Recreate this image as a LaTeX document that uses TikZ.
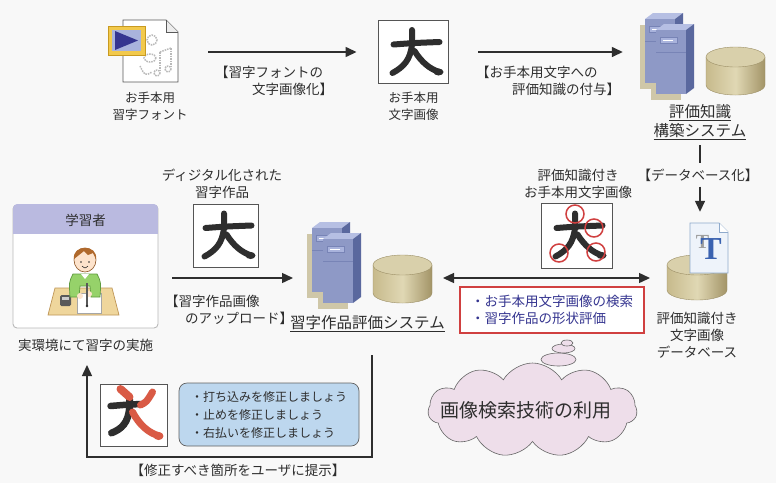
\documentclass[tikz,border=0pt]{standalone}
\usepackage{fontspec}
\setmainfont{Noto Sans CJK JP}
\newfontfamily\tfont{Liberation Serif}
\usetikzlibrary{arrows.meta,shapes.symbols,shapes.geometric}

\definecolor{bg}{HTML}{F8F8F8}
\definecolor{ink}{HTML}{2E2E2E}
\definecolor{boxline}{HTML}{555555}
\definecolor{srvfront}{HTML}{8E99C6}
\definecolor{srvside}{HTML}{5A689E}
\definecolor{srvtop}{HTML}{B6BFE3}
\definecolor{srvline}{HTML}{7884B6}
\definecolor{srvslot}{HTML}{A9B3DC}
\definecolor{srvshadow}{HTML}{CFC7A8}
\definecolor{dbmid}{HTML}{C7BA8C}
\definecolor{dblight}{HTML}{E0D8B4}
\definecolor{dbdark}{HTML}{A39467}
\definecolor{dbtop}{HTML}{D9D0AB}
\definecolor{dbedge}{HTML}{9C8F66}
\definecolor{lav}{HTML}{BABAE0}
\definecolor{tipblue}{HTML}{BDD7EE}
\definecolor{cloudpink}{HTML}{EEDEEA}
\definecolor{boxred}{HTML}{D04040}
\definecolor{navy}{HTML}{353590}
\definecolor{brushred}{HTML}{D95A45}
\definecolor{docedge}{HTML}{8FAACC}
\definecolor{docfill}{HTML}{EEF3FA}
\definecolor{tblue}{HTML}{3A62B0}
\definecolor{desk}{HTML}{EFD69C}
\definecolor{deskedge}{HTML}{BE9556}
\definecolor{shirt}{HTML}{96D26A}
\definecolor{shirtedge}{HTML}{5E9A3E}
\definecolor{skin}{HTML}{FDE3CC}
\definecolor{hair}{HTML}{B0692C}
\definecolor{fontyellow}{HTML}{F2C94C}
\definecolor{fontgold}{HTML}{C89A20}

% one server cabinet, offset by #1 to the right and down
\newcommand\drawsrv[1]{%
  \begin{scope}[shift={(#1,#1)}]
    \fill[srvtop] (0,6) -- (8,0) -- (38,0) -- (30,6) -- cycle;
    \fill[srvside] (30,6) -- (38,0) -- (38,64) -- (30,70) -- cycle;
    \fill[srvfront] (0,6) rectangle (30,70);
    \draw[srvline, line width=0.6] (0,28) -- (30,28);
    \fill[srvslot] (4,13) rectangle (21,19);
    \draw[srvline, line width=0.4] (4,13) rectangle (21,19);
    \draw[white, line width=0.9] (7,16) -- (17,16);
  \end{scope}}

\tikzset{
  arr/.style={draw=ink, line width=1.4, -{Triangle[length=11pt,width=10pt]}},
  dblarr/.style={draw=ink, line width=1.4, {Triangle[length=11pt,width=10pt]}-{Triangle[length=11pt,width=10pt]}},
  plain/.style={draw=ink, line width=1.4},
  lbl/.style={font=\fontsize{13.5}{17}\selectfont, text=ink, align=center, inner sep=0},
  lblsmall/.style={font=\fontsize{12.5}{17}\selectfont, text=ink, align=center, inner sep=0},
  syslbl/.style={font=\fontsize{15.5}{19}\selectfont, text=ink, align=center, inner sep=0},
  charbox/.style={draw=boxline, line width=0.9, fill=white, inner sep=0},
  ghost/.style={inner sep=0},
  brush/.style={draw=ink, line width=6, line cap=round},
  redbrush/.style={draw=brushred, line width=7, line cap=round},
  ring/.style={draw=boxred, line width=1.5},
  bubble/.style={ellipse, draw=gray!80!black, line width=0.6, fill=cloudpink, inner sep=0},
  pics/daichar/.style={code={
    \draw[brush] (-20,-7.5) .. controls (0,-9) .. (26,-10);
    \draw[brush] (-1.5,-22) -- (-1.5,-8) .. controls (-3,8) and (-10,15) .. (-21,21);
    \draw[brush] (1,-1) .. controls (8,10) and (16,17) .. (26,20);
    \fill[ink] (25,20) ellipse [x radius=5, y radius=3.5];
  }},
  pics/servers/.style={code={
    \fill[srvshadow] (-5,12) rectangle (25,76);
    \fill[srvshadow] (6,23) rectangle (36,87);
    \drawsrv{0}
    \drawsrv{11}
  }},
  pics/cyl/.style 2 args={code={
    \path[left color=dbmid, right color=dbdark, middle color=dblight, draw=dbedge, line width=0.4]
      (0,10) -- (0,10+#2) arc[start angle=180, end angle=0, x radius=#1/2, y radius=10]
      -- (#1,10) -- cycle;
    \path[fill=dbtop, draw=dbedge, line width=0.4] (#1/2,10) ellipse [x radius=#1/2, y radius=10];
  }},
}

\begin{document}
\begin{tikzpicture}[x=1pt, y=-1pt]
\fill[bg] (0,0) rectangle (776,483);
\useasboundingbox (0,0) rectangle (776,483);

% ---------- top row: font file icon ----------
\node[ghost, minimum width=70, minimum height=64] (fonticon) at (143,52) {};
\draw[gray!70!black, fill=white, line width=0.9] (123,20) -- (166,20) -- (178,32) -- (178,82) -- (123,82) -- cycle;
\draw[gray!70!black, fill=gray!15, line width=0.9] (166,20) -- (166,32) -- (178,32);
\begin{scope}[gray!55, densely dotted, line width=1.5]
  \draw (152,40) circle[radius=5];
  \draw (150,58) ellipse [x radius=6, y radius=4];
  \draw (160,52) -- (160,72);
  \draw (171,48) -- (171,68);
  \draw (160,52) -- (171,48);
  \draw (157,73) circle[radius=3];
  \draw (168,69) circle[radius=3];
  \draw (140,66) .. controls (145,76) .. (152,72);
\end{scope}
\fill[fontyellow] (108,26) rectangle (145,55);
\draw[fontgold, line width=0.8] (108,26) rectangle (145,55);
\fill[srvslot] (112,30) rectangle (141,51);
\fill[navy] (115,31) -- (115,50) -- (138,40.5) -- cycle;

% ---------- top row: model character image ----------
\node[charbox, minimum width=70, minimum height=63] (modelimg) at (413.5,52) {};
\pic at (modelimg.center) {daichar};

% ---------- top row: knowledge construction system ----------
\node[ghost, minimum width=125, minimum height=84] (topsys) at (702.5,55) {};
\pic at (645,13) {servers};
\pic at (706,47) {cyl={59}{28}};

% ---------- database with evaluation knowledge ----------
\node[ghost, minimum width=61, minimum height=77] (dbicon) at (697.5,261.5) {};
\pic at (667,255) {cyl={60}{25}};
\draw[docedge, fill=docfill, line width=0.8] (690,223) -- (719,223) -- (728,232) -- (728,273) -- (690,273) -- cycle;
\draw[docedge, fill=white, line width=0.8] (719,223) -- (719,232) -- (728,232);
\node[inner sep=0, font=\tfont\bfseries\fontsize{20}{20}\selectfont, text=gray!75] (tgray) at (702.5,242) {T};
\node[inner sep=0, font=\tfont\bfseries\fontsize{32}{32}\selectfont, text=tblue] (tblue) at (711,249) {T};

% ---------- learner panel ----------
\node[draw=gray!55, line width=0.9, fill=white, rounded corners=4, minimum width=145, minimum height=123, inner sep=0] (learner) at (85.5,266.5) {};
\fill[lav, rounded corners=4] ([shift={(0.5,-0.5)}]learner.north west) rectangle ([shift={(-0.5,29)}]learner.north east);
\fill[lav] ([shift={(0.5,15)}]learner.north west) rectangle ([shift={(-0.5,29)}]learner.north east);
\node[lbl] (learnerhead) at (85.5,220) {学習者};
% desk, inkstone and paper
\draw[deskedge, fill=desk, line width=0.7] (55,288) -- (112,288) -- (119,315) -- (48,315) -- cycle;
\fill[gray!70!black, rounded corners=1.5] (60,295) rectangle (71,306);
\fill[gray!40] (62,297) rectangle (69,300);
\draw[gray!70, fill=white, line width=0.6] (77,293) rectangle (101,313);
% the boy
\draw[shirtedge, fill=shirt, line width=0.7] (73,274) .. controls (69,282) .. (70,297) -- (79,297) -- (80,286) -- (90,286) -- (91,297) -- (100,297) .. controls (101,282) .. (97,274) -- cycle;
\fill[white] (81,274) -- (85,279) -- (89,274) -- cycle;
\fill[skin] (80,296) circle[radius=3];
\fill[skin] (89,294) circle[radius=3];
\draw[ink!80, line width=1.6] (87,283) -- (87,306);
\fill[ink] (87,306) circle[radius=1.3];
\draw[hair!80!black, fill=skin, line width=0.6] (85,260) ellipse [x radius=11, y radius=12];
\fill[hair] (74,259) .. controls (72,244) and (98,244) .. (96,259) -- (93,253) -- (88,255) -- (84,251) -- (79,255) -- cycle;
\fill[ink] (81,262) circle[radius=0.9];
\fill[ink] (89,262) circle[radius=0.9];
\draw[ink, line width=0.6] (82,266) .. controls (85,268.5) .. (88,266);

% ---------- middle row: uploaded work image ----------
\node[charbox, minimum width=65, minimum height=63] (workimg) at (225.5,235.5) {};
\pic at (workimg.center) {daichar};

% ---------- middle row: work evaluation system ----------
\node[ghost, minimum width=125, minimum height=86] (evalsys) at (369.5,265) {};
\pic at (312,222) {servers};
\pic at (373,255) {cyl={59}{28}};

% ---------- middle row: model image with evaluation points ----------
\node[charbox, minimum width=71, minimum height=65] (refimg) at (576.5,235.5) {};
\pic at (refimg.center) {daichar};
\begin{scope}[shift={(refimg.center)}]
  \draw[ring] (-1.5,-21.5) circle[radius=9];
  \draw[ring] (17.5,-7.5) circle[radius=9];
  \draw[ring] (-17.5,17.5) circle[radius=9];
  \draw[ring] (19.5,16.5) circle[radius=9];
\end{scope}

% ---------- retrieval / evaluation box ----------
\node[draw=boxred, line width=1.6, fill=white, minimum width=184, minimum height=46,
      font=\fontsize{13.5}{17}\selectfont, text=navy, align=left, inner sep=0] (search) at (552,310)
  {・お手本用文字画像の検索\\・習字作品の形状評価};

% ---------- image retrieval cloud ----------
\node[cloud, cloud puffs=11, cloud puff arc=120, aspect=2.2, draw=gray!80!black, line width=0.6,
      fill=cloudpink, minimum width=209, minimum height=94, inner sep=0] (cloud) at (532.5,410) {};
\node[inner sep=0, font=\fontsize{19}{19}\selectfont, text=ink] (cloudtext) at (526,410) {画像検索技術の利用};
\node[bubble, minimum width=35, minimum height=13] (bubA) at (558.5,359.5) {};
\node[bubble, minimum width=23, minimum height=9] (bubB) at (563.5,348.5) {};
\node[bubble, minimum width=12, minimum height=6] (bubC) at (567,343) {};

% ---------- feedback to the learner ----------
\node[charbox, minimum width=67, minimum height=62] (fbimg) at (133.5,415) {};
\begin{scope}[shift={(fbimg.center)}]
  \draw[brush, line width=6.5] (-23,-9) .. controls (-5,-10.5) .. (9,-11);
  \draw[brush, line width=7] (-4,-16) -- (-4,-8) .. controls (-5,8) and (-12,14) .. (-22,18);
  \draw[redbrush] (7,-10) .. controls (13,-13) .. (19,-23);
  \draw[redbrush, line width=8] (-13,-26) -- (-4,-18);
  \draw[redbrush] (-1,-3) .. controls (6,10) and (15,18) .. (26,21);
  \fill[brushred] (25,21) ellipse [x radius=5, y radius=4];
\end{scope}
\node[draw=gray!75!black, line width=0.7, fill=tipblue, rounded corners=8, minimum width=180, minimum height=63,
      font=\fontsize{12}{18}\selectfont, text=ink, align=left, inner sep=0] (tips) at (269,414.5)
  {・打ち込みを修正しましょう\\・止めを修正しましょう\\・右払いを修正しましょう};

% ---------- labels ----------
\node[lblsmall] (fontlbl) at (150,106.5) {お手本用\\習字フォント};
\node[lblsmall] (modellbl) at (413.5,106.5) {お手本用\\文字画像};
\node[lbl, anchor=west, align=left] (arrAlbl) at (215,81) {【習字フォントの\\\hspace*{37pt}文字画像化】};
\node[lbl, anchor=west, align=left] (arrBlbl) at (476,81) {【お手本用文字への\\\hspace*{36pt}評価知識の付与】};
\node[syslbl] (topsyslbl) at (700,122) {\underline{評価知識}\\\underline{構築システム}};
\node[lbl, minimum height=23] (dbconv) at (698,175) {【データベース化】};
\node[lbl] (dblbl) at (697,335) {評価知識付き\\文字画像\\データベース};
\node[lbl] (digilbl) at (222,183.5) {ディジタル化された\\習字作品};
\node[lbl] (reflbl) at (578,183.5) {評価知識付き\\お手本用文字画像};
\node[lbl, anchor=west, align=left] (uplbl) at (165,309.5) {【習字作品画像\\\hspace*{20pt}のアップロード】};
\node[syslbl] (evalsyslbl) at (367.5,324) {\underline{習字作品評価システム}};
\node[lbl] (learnerlbl) at (85.5,345) {実環境にて習字の実施};
\node[lbl] (fblbl) at (238,470) {【修正すべき箇所をユーザに提示】};

% ---------- connectors ----------
\draw[arr, shorten <=30pt, shorten >=21.5pt] (fonticon.east) -- (modelimg.west);
\draw[arr, shorten <=29.5pt, shorten >=17pt] (modelimg.east) -- (modelimg.east -| topsys.west);
\draw[plain] (topsyslbl.south |- 0,145) -- (topsyslbl.south |- dbconv.north);
\draw[arr, shorten >=11pt] (topsyslbl.south |- dbconv.south) -- (topsyslbl.south |- dbicon.north);

\coordinate (upS) at (172,278);
\coordinate (upE) at (293,278);
\draw[arr] (upS) -- (upE);

\coordinate (dblL) at (443,278);
\coordinate (dblR) at (650,278);
\draw[dblarr] (dblL) -- (dblR);

\coordinate (fbA) at (372,355);
\coordinate (fbB) at (372,457);
\coordinate (fbC) at (87,457);
\coordinate (fbD) at (87,365);
\draw[arr] (fbA) -- (fbB) -- (fbC) -- (fbD);
\end{tikzpicture}
\end{document}
